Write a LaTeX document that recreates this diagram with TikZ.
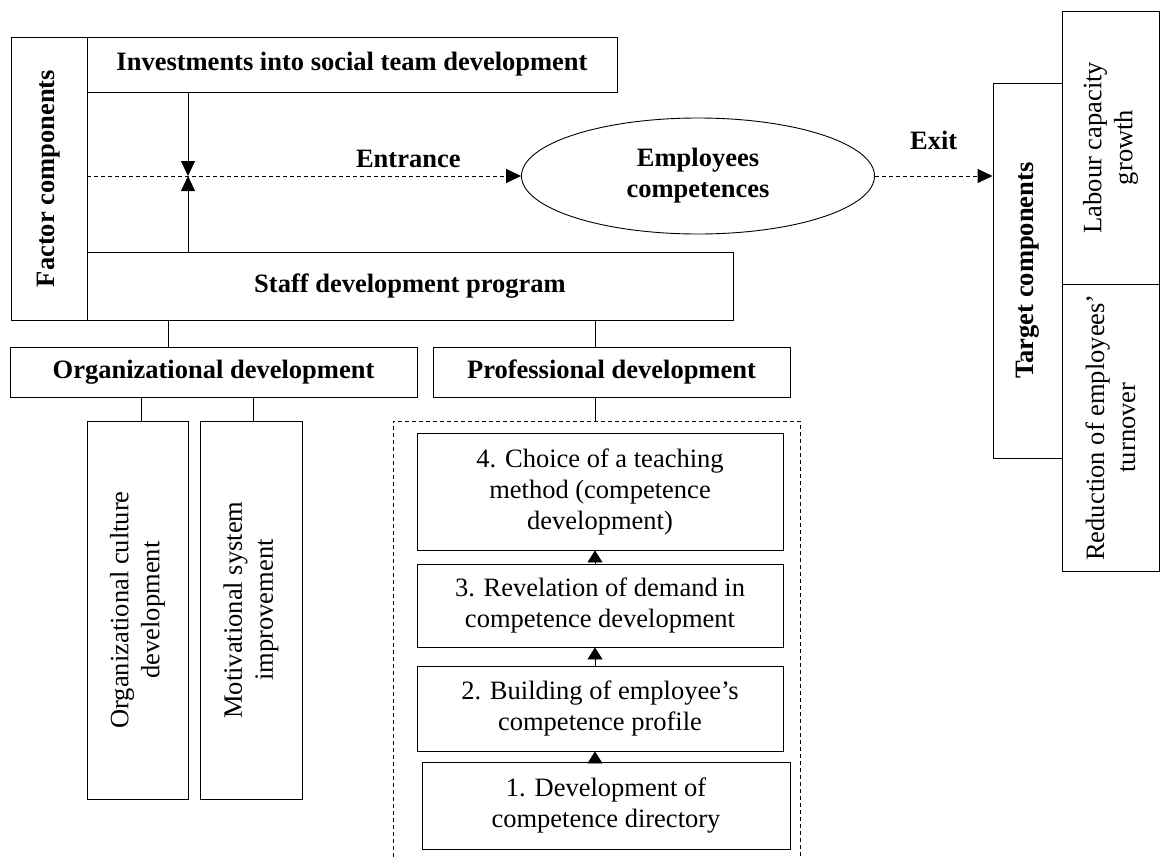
\documentclass[tikz,border=0pt]{standalone}
\usepackage{fontspec}
\setmainfont{Liberation Serif}
\usetikzlibrary{arrows.meta,shapes.geometric}
\tikzset{
  blk/.style={draw,line width=0.9pt,inner sep=2pt,align=center,font=\fontsize{26.5}{31}\selectfont},
  bblk/.style={blk,font=\fontsize{26.5}{31}\selectfont\bfseries},
  tip/.style={-{Triangle[length=15pt,width=14pt]}},
  smalltip/.style={-{Triangle[length=12pt,width=15pt]}},
  flow/.style={line width=0.9pt,dash pattern=on 4pt off 3pt}
}
\begin{document}
\begin{tikzpicture}[x=1pt,y=-1pt,line width=0.9pt]
\useasboundingbox (0,0) rectangle (1160,857);
\node[bblk,rotate=90,minimum width=283,minimum height=76] (factor) at (49,178.5) {Factor components};
\node[bblk,minimum width=530,minimum height=55] (invest) at (352,64.5) {Investments into social team development};
\node[bblk,minimum width=646,minimum height=68] (staff) at (410,286) {Staff development program};
\node[bblk,ellipse,minimum width=353,minimum height=116] (comp) at (698,176) {Employees\\competences};
\node[bblk,rotate=90,minimum width=375,minimum height=69] (target) at (1027.5,270.5) {Target components};
\node[blk,rotate=90,minimum width=273,minimum height=97] (labour) at (1110.5,147.5) {Labour capacity\\growth};
\node[blk,rotate=90,minimum width=287,minimum height=97] (reduce) at (1110.5,427.5) {Reduction of employees’\\turnover};
\node[bblk,minimum width=407,minimum height=50] (orgdev) at (213.5,372) {Organizational development};
\node[bblk,minimum width=357,minimum height=50] (profdev) at (611.5,372) {Professional development};
\node[blk,rotate=90,minimum width=378,minimum height=101] (culture) at (137.5,610) {Organizational culture\\development};
\node[blk,rotate=90,minimum width=378,minimum height=102] (motiv) at (251,610) {Motivational system\\improvement};
\node[blk,minimum width=366,minimum height=117] (step4) at (600,491.5) {4. Choice of a teaching\\method (competence\\development)};
\node[blk,minimum width=366,minimum height=83] (step3) at (600,605.5) {3. Revelation of demand in\\competence development};
\node[blk,minimum width=366,minimum height=85] (step2) at (600,708.5) {2. Building of employee’s\\competence profile};
\node[blk,minimum width=368,minimum height=87] (step1) at (606,805.5) {1. Development of\\competence directory};
\coordinate (meet) at (188,176);
\coordinate (frame) at (595,421);
\draw[flow] (393,857) -- (393,421) -- (800,421) -- (800,857);
\draw[flow,tip] (factor.south |- comp.west) -- (comp.west)
  node[pos=0.74,above=4pt,font=\fontsize{26.5}{31}\selectfont\bfseries] {Entrance};
\draw[flow,tip] (comp.east) -- (comp.east -| target.north)
  node[midway,above=22pt,font=\fontsize{26.5}{31}\selectfont\bfseries] {Exit};
\draw[tip] (invest.south -| meet) -- (meet);
\draw[tip] (staff.north -| meet) -- (meet);
\draw (staff.south -| 168,0) -- (orgdev.north -| 168,0);
\draw (staff.south -| frame) -- (profdev.north -| frame);
\draw (orgdev.south -| 141,0) -- (culture.east -| 141,0);
\draw (orgdev.south -| 253,0) -- (motiv.east -| 253,0);
\draw (profdev.south -| frame) -- (frame);
\draw[smalltip] (step1.north -| frame) -- (step2.south -| frame);
\draw[smalltip] (step2.north -| frame) -- (step3.south -| frame);
\draw[smalltip] (step3.north -| frame) -- (step4.south -| frame);
\end{tikzpicture}
\end{document}
